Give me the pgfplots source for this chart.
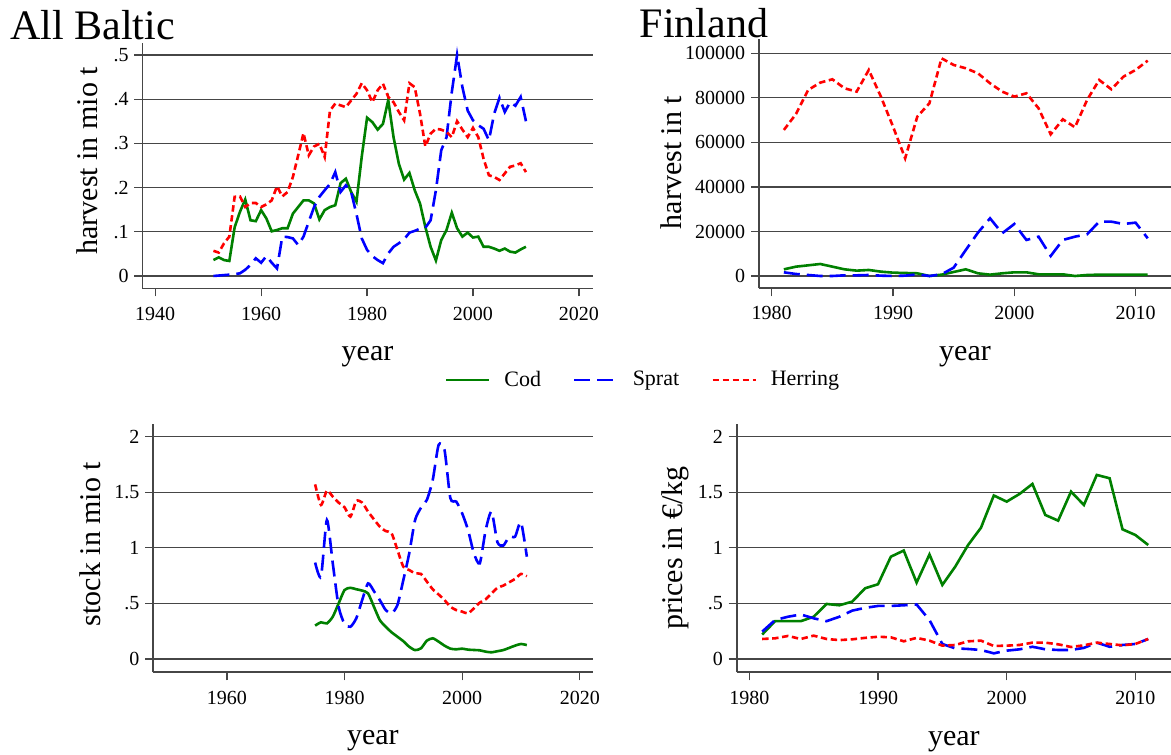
\documentclass[border=0pt]{standalone}
\usepackage{fontspec}
\setmainfont{Liberation Serif}
\usepackage{pgfplots}
\pgfplotsset{compat=1.18}

\definecolor{codgreen}{RGB}{0,128,0}
\definecolor{gridgray}{RGB}{70,70,70}

% common look of the four panels (1px of the reference = 0.5pt)
\pgfplotsset{
  panel/.style={
    scale only axis,
    anchor=south west,
    axis x line*=bottom,
    axis y line*=left,
    axis line style={gridgray, line width=0.8pt},
    tick align=outside,
    major tick length=4pt,
    tick style={gridgray, line width=0.6pt},
    ymajorgrids,
    major grid style={gridgray, line width=0.6pt},
    tick label style={font=\fontsize{10}{12}\selectfont},
    xticklabel style={inner sep=0pt},
    yticklabel style={inner sep=0pt},
    xticklabel shift=5pt,
    yticklabel shift=2.7pt,
    label style={font=\fontsize{15}{18}\selectfont},
    xlabel={year},
  },
  cod/.style={codgreen, line width=1.3pt},
  sprat/.style={blue, line width=1.3pt, dash pattern=on 8pt off 3.5pt},
  herring/.style={red, line width=1.3pt, dash pattern=on 3.2pt off 1.8pt},
}

\begin{document}
\begin{tikzpicture}

% ---------------- All Baltic: harvest ----------------
\begin{axis}[panel,
    at={(71.15pt,232.75pt)},
    width=225.2pt, height=122.75pt,
    xmin=1937.57, xmax=2022.6,
    ymin=-0.0283, ymax=0.527,
    xtick={1940,1960,1980,2000,2020},
    xticklabels={1940,1960,1980,2000,2020},
    ytick={0,0.1,0.2,0.3,0.4,0.5},
    yticklabels={0,.1,.2,.3,.4,.5},
    ylabel={harvest in mio t},
    ylabel style={at={(axis description cs:-0.0984,0.52)}, anchor=base, inner sep=0pt},
    xlabel style={at={(axis description cs:0.5,-0.295)}, anchor=base, inner sep=0pt},
    legend columns=3,
    legend style={at={(axis description cs:1.114,-0.3727)}, anchor=center,
        draw=none, fill=none, font=\fontsize{11}{13}\selectfont,
        /tikz/every odd column/.append style={column sep=5pt},
        /tikz/every even column/.append style={column sep=14pt}},
    legend image code/.code={\draw[#1] (0pt,0pt) -- (21.5pt,0pt);},
]
\addplot[cod] coordinates {
 (1951,.036) (1952,.042) (1953,.036) (1954,.034) (1955,.11) (1956,.145)
 (1957,.173) (1958,.126) (1959,.124) (1960,.149) (1961,.130) (1962,.101)
 (1963,.104) (1964,.108) (1965,.108) (1966,.141) (1967,.156) (1968,.171)
 (1969,.171) (1970,.164) (1971,.128) (1972,.149) (1973,.156) (1974,.16)
 (1975,.21) (1976,.22) (1977,.19) (1978,.168) (1979,.27) (1980,.358)
 (1981,.348) (1982,.331) (1983,.344) (1984,.398) (1985,.314) (1986,.254)
 (1987,.218) (1988,.233) (1989,.194) (1990,.164) (1991,.111) (1992,.066)
 (1993,.035) (1994,.081) (1995,.104) (1996,.143) (1997,.108) (1998,.089)
 (1999,.098) (2000,.087) (2001,.089) (2002,.066) (2003,.066) (2004,.062)
 (2005,.057) (2006,.062) (2007,.055) (2008,.053) (2009,.06) (2010,.066)
};
\addlegendentry{Cod}
\addplot[sprat] coordinates {
 (1951,0) (1952,.001) (1953,.002) (1954,.003) (1955,.004) (1956,.006)
 (1957,.014) (1958,.025) (1959,.04) (1960,.03) (1961,.045) (1962,.03)
 (1963,.017) (1964,.089) (1965,.088) (1966,.085) (1967,.07) (1968,.089)
 (1969,.123) (1970,.156) (1971,.179) (1972,.194) (1973,.208) (1974,.235)
 (1975,.19) (1976,.205) (1977,.19) (1978,.14) (1979,.085) (1980,.059)
 (1981,.045) (1982,.036) (1983,.029) (1984,.051) (1985,.066) (1986,.074)
 (1987,.083) (1988,.098) (1989,.102) (1990,.107) (1991,.109) (1992,.126)
 (1993,.194) (1994,.284) (1995,.314) (1996,.416) (1997,.50) (1998,.427)
 (1999,.374) (2000,.352) (2001,.341) (2002,.333) (2003,.307) (2004,.367)
 (2005,.403) (2006,.371) (2007,.393) (2008,.385) (2009,.405) (2010,.35)
};
\addlegendentry{Sprat}
\addplot[herring] coordinates {
 (1951,.057) (1952,.053) (1953,.074) (1954,.089) (1955,.179) (1956,.18)
 (1957,.156) (1958,.165) (1959,.165) (1960,.156) (1961,.162) (1962,.171)
 (1963,.203) (1964,.18) (1965,.19) (1966,.224) (1967,.273) (1968,.323)
 (1969,.273) (1970,.293) (1971,.299) (1972,.269) (1973,.374) (1974,.39)
 (1975,.386) (1976,.382) (1977,.397) (1978,.412) (1979,.436) (1980,.42)
 (1981,.393) (1982,.42) (1983,.435) (1984,.405) (1985,.393) (1986,.371)
 (1987,.352) (1988,.436) (1989,.427) (1990,.367) (1991,.293) (1992,.322)
 (1993,.333) (1994,.331) (1995,.326) (1996,.314) (1997,.35) (1998,.331)
 (1999,.314) (2000,.335) (2001,.314) (2002,.265) (2003,.228) (2004,.224)
 (2005,.217) (2006,.232) (2007,.247) (2008,.25) (2009,.255) (2010,.235)
};
\addlegendentry{Herring}
\end{axis}

% ---------------- Finland: harvest ----------------
\begin{axis}[panel,
    at={(379.5pt,232.85pt)},
    width=206pt, height=124.5pt,
    xmin=1978.95, xmax=2012.92,
    ymin=-5523, ymax=106286,
    xtick={1980,1990,2000,2010},
    xticklabels={1980,1990,2000,2010},
    ytick={0,20000,40000,60000,80000,100000},
    yticklabels={0,20000,40000,60000,80000,100000},
    scaled y ticks=false,
    ylabel={harvest in t},
    ylabel style={at={(axis description cs:-0.187,0.505)}, anchor=base, inner sep=0pt},
    xlabel style={at={(axis description cs:0.5,-0.29)}, anchor=base, inner sep=0pt},
]
\addplot[cod] coordinates {
 (1981,2990) (1982,4190) (1983,4790) (1984,5390) (1985,4190) (1986,2990)
 (1987,2400) (1988,2700) (1989,1950) (1990,1500) (1991,1350) (1992,1200)
 (1993,0) (1994,600) (1995,1800) (1996,3000) (1997,1200) (1998,600)
 (1999,1200) (2000,1650) (2001,1650) (2002,750) (2003,750) (2004,750)
 (2005,0) (2006,450) (2007,600) (2008,600) (2009,600) (2010,600) (2011,600)
};
\addplot[sprat] coordinates {
 (1981,1650) (1982,900) (1983,450) (1984,0) (1985,0) (1986,300)
 (1987,300) (1988,450) (1989,150) (1990,0) (1991,150) (1992,750)
 (1993,0) (1994,750) (1995,3740) (1996,11680) (1997,19460) (1998,25900)
 (1999,19160) (2000,23350) (2001,16170) (2002,17660) (2003,8980) (2004,16170)
 (2005,17660) (2006,18710) (2007,24400) (2008,24400) (2009,23350) (2010,23950)
 (2011,16920)
};
\addplot[herring] coordinates {
 (1981,65570) (1982,72750) (1983,83530) (1984,86830) (1985,88320) (1986,84280)
 (1987,82780) (1988,92510) (1989,80540) (1990,67070) (1991,52840) (1992,71560)
 (1993,77550) (1994,97750) (1995,94760) (1996,93260) (1997,91020) (1998,86530)
 (1999,82780) (2000,80540) (2001,82040) (2002,75300) (2003,63620) (2004,70360)
 (2005,66770) (2006,79040) (2007,88020) (2008,83830) (2009,89520) (2010,92510)
 (2011,96700)
};
\end{axis}

% ---------------- All Baltic: stock ----------------
\begin{axis}[panel,
    at={(76.55pt,40.85pt)},
    width=219.8pt, height=124.15pt,
    xmin=1947.45, xmax=2022.2,
    ymin=-0.1196, ymax=2.113,
    xtick={1960,1980,2000,2020},
    xticklabels={1960,1980,2000,2020},
    ytick={0,0.5,1,1.5,2},
    yticklabels={0,.5,1,1.5,2},
    ylabel={stock in mio t},
    ylabel style={at={(axis description cs:-0.119,0.517)}, anchor=base, inner sep=0pt},
    xlabel style={at={(axis description cs:0.5,-0.289)}, anchor=base, inner sep=0pt},
]
\addplot[cod, smooth, tension=0.4] coordinates {
 (1975,.30) (1976,.33) (1977,.32) (1978,.38) (1979,.50) (1980,.62)
 (1981,.64) (1982,.627) (1983,.615) (1984,.59) (1985,.47) (1986,.35)
 (1987,.29) (1988,.24) (1989,.20) (1990,.16) (1991,.11) (1992,.08)
 (1993,.096) (1994,.165) (1995,.186) (1996,.156) (1997,.12) (1998,.093)
 (1999,.087) (2000,.093) (2001,.084) (2002,.081) (2003,.078) (2004,.066)
 (2005,.06) (2006,.07) (2007,.08) (2008,.10) (2009,.12) (2010,.135) (2011,.125)
};
\addplot[sprat, smooth, tension=0.4] coordinates {
 (1975,.867) (1976,.74) (1977,1.25) (1978,.86) (1979,.47) (1980,.315)
 (1981,.29) (1982,.366) (1983,.53) (1984,.68) (1985,.61) (1986,.53)
 (1987,.44) (1988,.41) (1989,.486) (1990,.71) (1991,.95) (1992,1.25)
 (1993,1.36) (1994,1.43) (1995,1.61) (1996,1.925) (1997,1.88) (1998,1.445)
 (1999,1.415) (2000,1.31) (2001,1.16) (2002,.95) (2003,.86) (2004,1.16)
 (2005,1.325) (2006,1.05) (2007,1.02) (2008,1.1) (2009,1.1) (2010,1.23) (2011,.92)
};
\addplot[herring, smooth, tension=0.4] coordinates {
 (1975,1.57) (1976,1.385) (1977,1.514) (1978,1.46) (1979,1.406) (1980,1.364)
 (1981,1.28) (1982,1.42) (1983,1.406) (1984,1.325) (1985,1.256) (1986,1.19)
 (1987,1.15) (1988,1.13) (1989,.98) (1990,.83) (1991,.80) (1992,.77)
 (1993,.765) (1994,.696) (1995,.627) (1996,.58) (1997,.53) (1998,.47)
 (1999,.44) (2000,.426) (2001,.41) (2002,.456) (2003,.507) (2004,.537)
 (2005,.59) (2006,.64) (2007,.66) (2008,.69) (2009,.72) (2010,.765) (2011,.745)
};
\end{axis}

% ---------------- Finland: prices ----------------
\begin{axis}[panel,
    at={(368.35pt,40.85pt)},
    width=217.15pt, height=124.15pt,
    xmin=1979.02, xmax=2012.77,
    ymin=-0.1196, ymax=2.113,
    xtick={1980,1990,2000,2010},
    xticklabels={1980,1990,2000,2010},
    ytick={0,0.5,1,1.5,2},
    yticklabels={0,.5,1,1.5,2},
    ylabel={prices in €/kg},
    ylabel style={at={(axis description cs:-0.1246,0.50)}, anchor=base, inner sep=0pt},
    xlabel style={at={(axis description cs:0.5,-0.295)}, anchor=base, inner sep=0pt},
]
\addplot[cod] coordinates {
 (1981,.22) (1982,.34) (1983,.34) (1984,.34) (1985,.38) (1986,.495)
 (1987,.483) (1988,.516) (1989,.636) (1990,.672) (1991,.92) (1992,.975)
 (1993,.687) (1994,.94) (1995,.666) (1996,.83) (1997,1.025) (1998,1.18)
 (1999,1.47) (2000,1.415) (2001,1.484) (2002,1.574) (2003,1.295) (2004,1.244)
 (2005,1.505) (2006,1.385) (2007,1.655) (2008,1.625) (2009,1.166) (2010,1.115)
 (2011,1.025)
};
\addplot[sprat] coordinates {
 (1981,.246) (1982,.35) (1983,.38) (1984,.40) (1985,.366) (1986,.34)
 (1987,.38) (1988,.435) (1989,.46) (1990,.477) (1991,.477) (1992,.483)
 (1993,.49) (1994,.35) (1995,.135) (1996,.096) (1997,.09) (1998,.081)
 (1999,.051) (2000,.075) (2001,.087) (2002,.11) (2003,.087) (2004,.081)
 (2005,.081) (2006,.10) (2007,.147) (2008,.11) (2009,.126) (2010,.135)
 (2011,.18)
};
\addplot[herring] coordinates {
 (1981,.18) (1982,.186) (1983,.207) (1984,.18) (1985,.21) (1986,.18)
 (1987,.17) (1988,.177) (1989,.19) (1990,.20) (1991,.195) (1992,.159)
 (1993,.19) (1994,.165) (1995,.12) (1996,.126) (1997,.159) (1998,.165)
 (1999,.117) (2000,.12) (2001,.126) (2002,.147) (2003,.147) (2004,.132)
 (2005,.108) (2006,.123) (2007,.147) (2008,.135) (2009,.123) (2010,.135)
 (2011,.18)
};
\end{axis}

% panel titles
\node[anchor=base west, inner sep=0pt, font=\fontsize{21}{25}\selectfont] at (5pt,357pt) {All Baltic};
\node[anchor=base west, inner sep=0pt, font=\fontsize{21}{25}\selectfont] at (319.65pt,358.35pt) {Finland};

\pgfresetboundingbox
\path (0pt,0pt) rectangle (585.5pt,377pt);
\end{tikzpicture}
\end{document}
